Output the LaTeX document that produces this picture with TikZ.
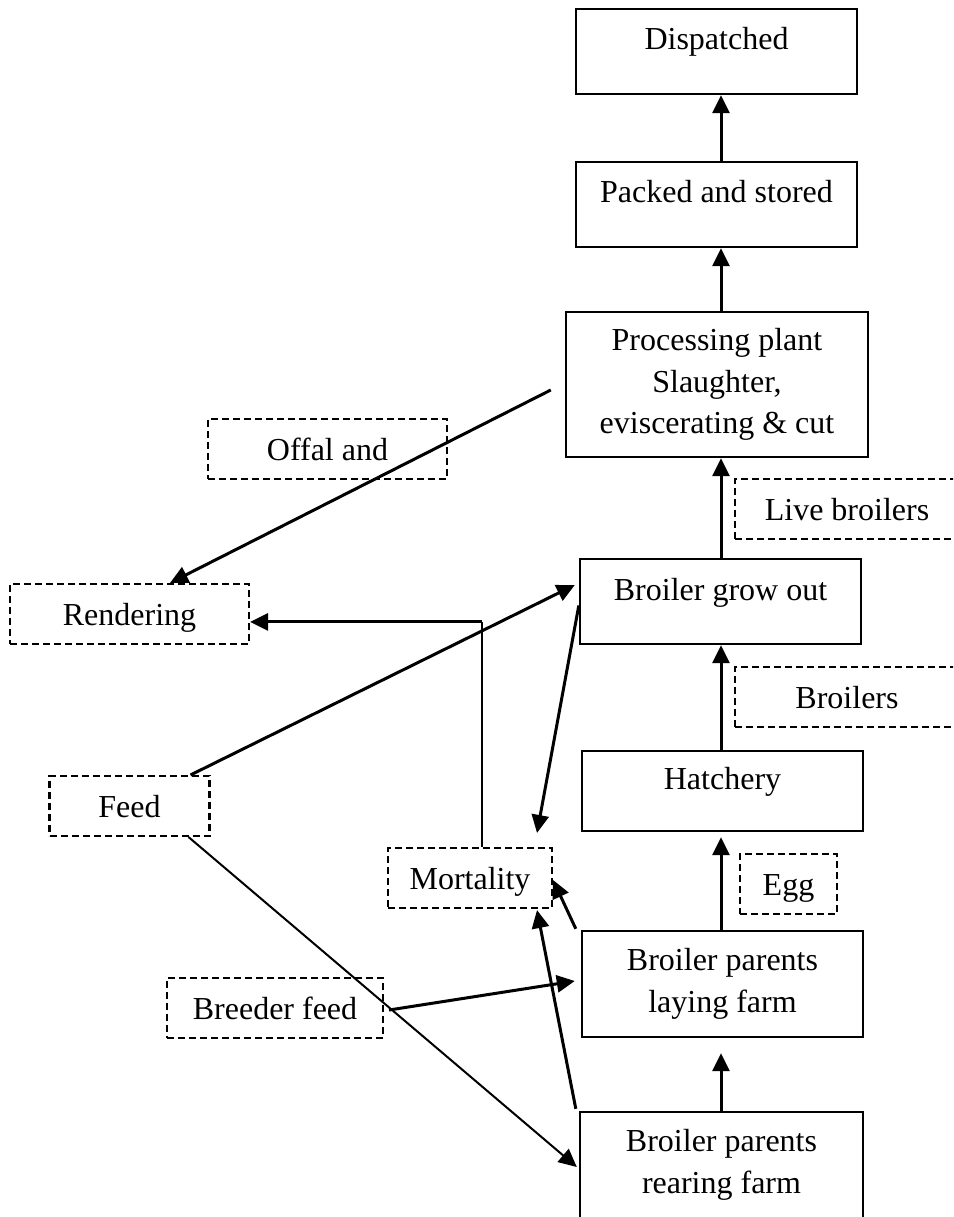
\documentclass[tikz,border=0pt]{standalone}
\usepackage{fontspec}
\setmainfont{Liberation Serif}
\usetikzlibrary{arrows.meta,calc}
\begin{document}
\begin{tikzpicture}[x=1pt,y=-1pt,
  font=\fontsize{32}{41.5}\selectfont,
  pbox/.style={draw, line width=2.4pt, inner sep=0pt, minimum width=281pt, minimum height=85pt, align=center},
  pline/.style={pbox, text height=22pt, text depth=25pt},
  dbox/.style={draw, dash pattern=on 7pt off 4pt, line width=2.1pt, inner sep=0pt, minimum height=60pt, text height=22pt, text depth=0pt},
  conn/.style={line width=3pt, -{Triangle[length=18pt,width=17pt]}},
  thinconn/.style={line width=2pt, -{Triangle[length=18pt,width=17pt]}},
  thinline/.style={line width=2pt}]
\path[use as bounding box] (0,0) rectangle (953,1217);
\clip (0,0) rectangle (953,1217);
% main process boxes
\node[pline] (disp) at (716.5,51.5) {Dispatched};
\node[pline] (pack) at (716.5,204.5) {Packed and stored};
\node[pbox, minimum width=302pt, minimum height=145pt] (proc) at (717,384.5) {Processing plant\\Slaughter,\\eviscerating \& cut};
\node[pline] (grow) at (720.5,601.5) {Broiler grow out};
\node[pline, minimum height=80pt] (hatch) at (722.5,791) {Hatchery};
\node[pbox, minimum height=106pt] (lay) at (722.5,984) {Broiler parents\\laying farm};
\node[pbox, minimum width=283pt, minimum height=106pt] (rear) at (721.5,1165) {Broiler parents\\rearing farm};
% dashed boxes
\node[dbox, minimum width=239pt] (offal) at (327.5,449) {Offal and};
\node[dbox, minimum width=239pt] (rend) at (129.5,614) {Rendering};
\node[dbox, minimum width=224pt] (live) at (847,509) {Live broilers};
\node[dbox, minimum width=224pt] (broil) at (847,697) {Broilers};
\node[dbox, minimum width=97pt] (egg) at (788.5,884) {Egg};
\node[dbox, minimum width=164pt] (mort) at (470,878) {Mortality};
\node[dbox, minimum width=160pt] (feed) at (129.5,806) {Feed};
\node[dbox, minimum width=216pt] (breed) at (275,1008) {Breeder feed};
% spine
\coordinate (axis) at (721,0);
\draw[conn] (pack.north -| axis) -- (disp.south -| axis);
\draw[conn] (proc.north -| axis) -- (pack.south -| axis);
\draw[conn] (grow.north -| axis) -- (proc.south -| axis);
\draw[conn] (hatch.north -| axis) -- (grow.south -| axis);
\draw[conn, shorten >=5pt] (lay.north -| axis) -- (hatch.south -| axis);
\draw[conn, shorten >=15pt] (rear.north -| axis) -- (lay.south -| axis);
% side connectors
\draw[conn] ($(proc.west)+(-14,5.5)$) -- ($(rend.north)+(40.5,0)$);
\coordinate (mcorner) at ($(mort.north)+(12,-225)$);
\draw[thinline] ($(mort.north)+(12,0)$) -- (mcorner);
\draw[conn] (mcorner) -- (mcorner -| rend.east);
\draw[conn] ($(feed.north east)+(-20,0)$) -- ($(grow.west)+(-4,-16.5)$);
\draw[conn] ($(grow.west)+(0,4)$) -- ($(mort.north)+(67,-14)$);
\draw[conn] ($(lay.north west)+(-5,-1)$) -- ($(mort.east)+(0,2)$);
\draw[conn] ($(rear.north west)+(-3,-2)$) -- ($(mort.south)+(67,1)$);
\draw[conn] ($(breed.east)+(5,2)$) -- ($(lay.west)+(-6,-3)$);
\draw[thinconn] ($(feed.south east)+(-22,0)$) -- ($(rear.west)+(-2,2)$);
\end{tikzpicture}
\end{document}
